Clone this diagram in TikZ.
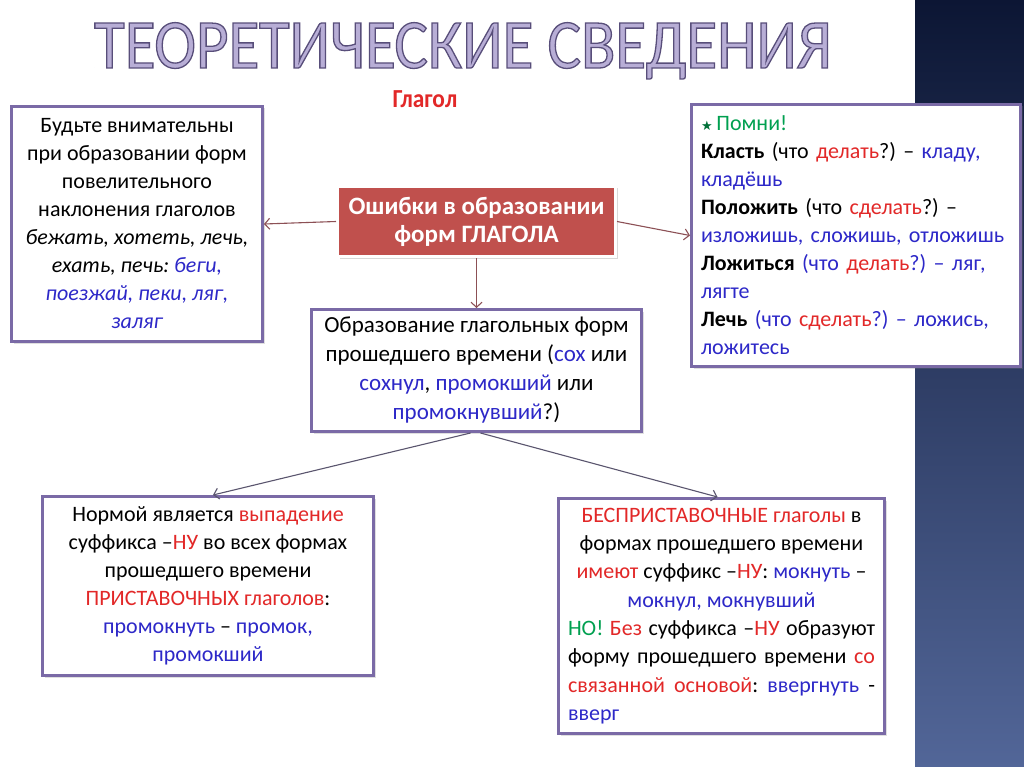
\documentclass[tikz,border=0pt]{standalone}
\usepackage{fontspec}
\setmainfont{Carlito}
\newfontfamily\dejavu{DejaVu Sans}
\newfontfamily\titlefont[FakeStretch=0.9]{Carlito}
\usetikzlibrary{arrows.meta,shadows}
\definecolor{bord}{RGB}{122,106,166}
\definecolor{rtxt}{RGB}{226,40,40}
\definecolor{btxt}{RGB}{45,40,200}
\definecolor{gtxt}{RGB}{0,160,80}
\definecolor{redbox}{RGB}{192,80,77}
\definecolor{arr}{RGB}{140,80,85}
\definecolor{arrg}{RGB}{90,85,110}
\definecolor{navytop}{RGB}{12,22,52}
\definecolor{navybot}{RGB}{82,102,152}
\definecolor{titlefill}{RGB}{184,174,214}
\newcommand{\R}[1]{\textcolor{rtxt}{#1}}
\newcommand{\B}[1]{\textcolor{btxt}{#1}}
\newcommand{\G}[1]{\textcolor{gtxt}{#1}}
\newcommand{\outlined}[1]{{\color{titlefill}\special{pdf:code 2 Tr 1.3 w 0.345 0.306 0.478 RG}#1\special{pdf:code 0 Tr}}}
\frenchspacing
\begin{document}
\frenchspacing
\begin{tikzpicture}[x=1pt,y=-1pt,
 box/.style={draw=bord, line width=3pt, fill=white, inner sep=0pt,
   drop shadow={shadow xshift=2pt,shadow yshift=-2pt,opacity=0.25},
   font=\fontsize{22}{28}\selectfont\frenchspacing, align=center},
 redstyle/.style={draw=white, line width=3pt, fill=redbox, inner sep=0pt,
   drop shadow={shadow xshift=2pt,shadow yshift=-2pt,opacity=0.3},
   font=\fontsize{25}{28}\selectfont\bfseries, text=white, align=center},
 link/.style={draw=arr, line width=1.1pt, -{Straight Barb[length=5pt,width=11pt]}},
 linkg/.style={draw=arrg, line width=1.1pt, -{Straight Barb[length=5pt,width=11pt]}},
 ttl/.style={font=\titlefont\fontsize{70}{74}\selectfont, anchor=base}
]
\useasboundingbox (0,0) rectangle (1024,767);
\fill[white] (0,0) rectangle (1024,767);
\shade[top color=navytop, bottom color=navybot] (915,0) rectangle (1024,767);

\node[ttl] (title) at (463,68) {\outlined{ТЕОРЕТИЧЕСКИЕ СВЕДЕНИЯ}};

\node[font=\titlefont\fontsize{26}{28}\selectfont\bfseries, text=rtxt] (glagol) at (425,99) {Глагол};

\node[box, minimum width=251, minimum height=235] (left) at (137,224) {%
Будьте внимательны\\
при образовании форм\\
повелительного\\
наклонения глаголов\\
\textit{бежать, хотеть, лечь,}\\
\textit{ехать, печь: \B{беги,}}\\
\textit{\B{поезжай, пеки, ляг,}}\\
\textit{\B{заляг}}};

\node[redstyle, minimum width=278, minimum height=70] (center) at (476.5,221.5) {%
Ошибки в образовании\\форм ГЛАГОЛА};

\node[box, minimum width=329, minimum height=262, align=left, text width=310] (right) at (856,235.5) {%
{\color{gtxt!70!black}\dejavu\fontsize{13}{13}\selectfont ★}\,\G{Помни!}\\
\textbf{Класть} (что \R{делать}?) – \B{кладу,}\\
\B{кладёшь}\\
\textbf{Положить} (что \R{сделать}?) –\\
\B{изложишь, сложишь, отложишь}\\
\textbf{Ложиться} \B{(что} \R{делать}\B{?) – ляг,}\\
\B{лягте}\\
\textbf{Лечь} \B{(что} \R{сделать}\B{?) – ложись,}\\
\B{ложитесь}};

\node[box, minimum width=330, minimum height=122, font=\fontsize{23}{29}\selectfont] (mid) at (476.5,370.5) {%
Образование глагольных форм\\
прошедшего времени (\B{сох} или\\
\B{сохнул}, \B{промокший} или\\
\B{промокнувший}?)};

\node[box, minimum width=331, minimum height=179] (bl) at (208,586) {%
Нормой является \R{выпадение}\\
суффикса –\R{НУ} во всех формах\\
прошедшего времени\\
\R{ПРИСТАВОЧНЫХ глаголов}:\\
\B{промокнуть} – \B{промок,}\\
\B{промокший}};

\node[box, minimum width=326, minimum height=235, font=\fontsize{22}{28.3}\selectfont] (br) at (721.5,616) {%
\begin{minipage}{307pt}\frenchspacing\centering
\R{БЕСПРИСТАВОЧНЫЕ глаголы} в\\
формах прошедшего времени\\
\R{имеют} суффикс –\R{НУ}: \B{мокнуть} –\\
\B{мокнул, мокнувший}\par
\leftskip=0pt \rightskip=0pt \parfillskip=0pt plus 1fil
\G{НО!} \R{Без} суффикса –\R{НУ} образуют\linebreak
форму прошедшего времени \R{со}\linebreak
\R{связанной основой}: \B{ввергнуть} -\linebreak
\B{вверг}
\end{minipage}};

\draw[link] (center.west) -- (left.east);
\draw[link] (center.east) -- (right.west);
\draw[link] (center.south) -- (mid.north);
\draw[linkg] ([xshift=-6pt]mid.south) -- ([xshift=5pt]bl.north);
\draw[linkg] ([xshift=4pt]mid.south) -- ([xshift=-4pt]br.north);
\end{tikzpicture}
\end{document}
